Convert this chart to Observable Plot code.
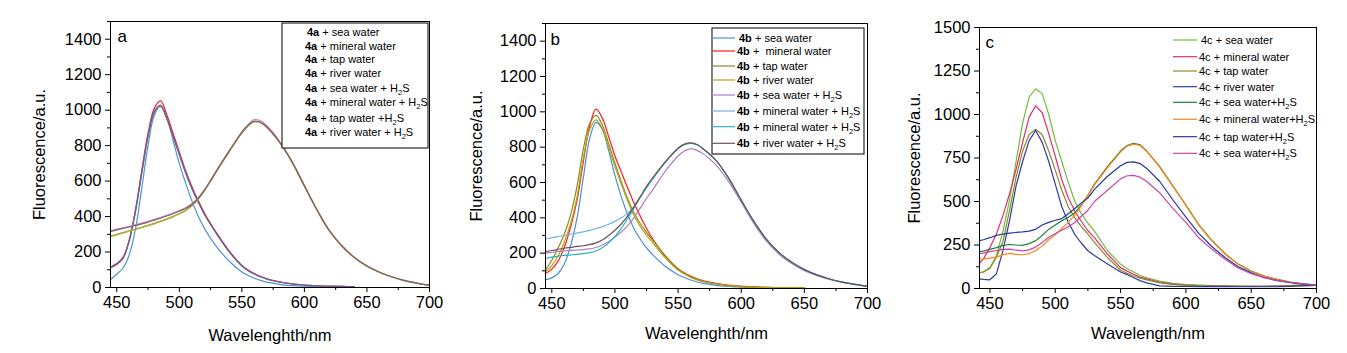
<!DOCTYPE html>
<html><head><meta charset="utf-8">
<script src="https://cdn.jsdelivr.net/npm/d3@7"></script>
<script src="https://cdn.jsdelivr.net/npm/@observablehq/plot@0.6"></script>
<style>
body{margin:0;background:#fff;}
#wrap{position:relative;width:1347px;height:353px;overflow:hidden;font-family:"Liberation Sans",Arial,sans-serif;background:#fff;}
.panel{position:absolute;top:0;}
</style></head><body><div id="wrap"></div>
<script>
// ---------- Panel a ----------
const wlA = [445,450,455,460,465,470,475,480,485,490,495,500,505,510,515,520,525,530,540,550,555,560,565,570,580,590,600,610,620,630,640,650,660,670,680,690,700];
const aSea        = [45,75,110,185,330,560,800,970,1022,960,830,700,590,490,405,335,278,228,148,88,68,52,40,30,18,11,7,5,4,3,2,null,null,null,null,null,null];
const aMineral    = [115,135,170,270,440,660,870,1010,1052,975,870,765,660,570,492,422,360,305,205,125,98,78,62,49,32,21,14,10,8,6,5,null,null,null,null,null,null];
const aTap        = [110,130,164,262,428,642,848,985,1020,950,850,748,647,558,482,414,355,300,200,121,95,76,60,47,31,20,14,10,7,6,5,null,null,null,null,null,null];
const aRiver      = [112,132,166,265,432,648,855,992,1028,955,855,752,650,561,485,416,357,302,202,123,96,77,61,48,31,20,14,10,7,6,5,null,null,null,null,null,null];
const aSeaH2S     = [320,329,337,345,354,363,373,384,395,407,420,434,450,472,505,550,605,663,773,878,918,948,940,912,826,713,576,441,322,236,170,122,87,60,40,25,13];
const aMineralH2S = [290,300,310,320,330,340,351,362,374,387,401,417,436,462,498,545,600,658,768,872,912,935,929,903,820,708,572,438,319,233,168,120,86,59,39,24,12];
const aTapH2S     = [287,297,307,317,327,337,348,359,371,384,398,414,433,459,496,544,599,657,767,871,911,934,928,902,819,707,571,437,318,233,168,120,86,59,39,24,12];
const aRiverH2S   = [316,325,333,341,350,359,369,380,391,403,416,430,446,468,502,548,603,660,770,875,915,938,932,905,822,710,573,438,320,234,169,121,86,59,39,25,13];
const labelsA = ["4a + sea water","4a + mineral water","4a + tap water","4a + river water","4a + sea water + H2S","4a + mineral water + H2S","4a + tap water +H2S","4a + river water + H2S"];
const colorsA = ["#4a93d8","#e8261e","#8a8a8a","#6f5a98","#d27ad0","#9c9c3a","#b6b038","#7a6468"];

// ---------- Panel b ----------
const wlB = wlA;
const bSea        = [50,60,85,140,245,400,630,850,940,900,780,640,520,420,340,280,230,190,125,78,62,48,37,29,18,12,8,6,4,3,3,2,null,null,null,null,null];
const bMineral    = [85,110,155,235,350,500,720,920,1015,965,860,750,660,570,485,410,340,280,180,110,88,70,55,44,29,19,13,9,6,5,4,3,null,null,null,null,null];
const bTap        = [105,160,230,310,420,580,790,935,980,925,820,710,605,510,430,368,318,272,185,112,88,68,53,41,27,17,11,8,6,5,4,3,null,null,null,null,null];
const bRiver      = [95,130,185,265,370,520,740,900,955,905,800,690,590,495,415,352,302,258,172,104,82,63,49,38,25,16,10,7,5,4,3,3,null,null,null,null,null];
const bSeaH2S     = [200,205,210,213,216,218,220,224,232,246,265,290,320,355,400,455,510,560,665,750,778,790,782,762,700,605,488,368,268,194,141,101,73,51,34,22,12];
const bMineralH2S = [280,287,294,300,307,314,321,329,338,350,364,380,400,425,462,515,570,622,716,792,815,822,814,790,725,625,500,380,278,203,148,107,77,54,36,23,13];
const bMineralH2S2= [170,178,183,187,190,193,197,203,212,230,258,295,340,395,455,515,572,622,716,792,815,822,814,790,725,625,500,380,278,203,148,107,77,54,36,23,13];
const bRiverH2S   = [210,215,222,228,233,238,242,248,258,275,300,330,365,410,462,520,578,628,718,794,817,824,815,790,725,625,500,380,278,203,148,107,77,54,36,23,13];
const labelsB = ["4b + sea water","4b +  mineral water","4b + tap water","4b + river water","4b + sea water + H2S","4b + mineral water + H2S","4b + mineral water + H2S","4b + river water + H2S"];
const colorsB = ["#4a8fd6","#ff1a1a","#8a8a2a","#b0a810","#b07cc6","#6cb4e6","#2ab4bc","#6d5555"];

// ---------- Panel c ----------
const wlC = [442,445,450,455,460,465,470,475,480,485,490,495,500,505,510,515,520,525,530,540,550,555,560,565,570,580,590,600,610,620,630,640,650,660,670,680,690,700];
const cSea        = [92,95,115,190,330,510,730,950,1100,1148,1120,1000,850,730,610,500,430,375,330,217,140,115,95,75,62,42,30,22,19,17,15,14,13,13,14,17,20,22];
const cMineral    = [145,170,235,315,420,545,685,840,985,1050,1010,890,760,625,520,445,385,332,292,198,120,100,82,65,55,36,27,20,17,15,14,13,13,13,14,16,18,20];
const cTap        = [92,95,120,180,270,450,640,790,885,915,885,790,680,565,470,405,355,313,265,178,105,88,72,60,50,32,24,19,16,14,13,12,12,12,13,16,20,22];
const cRiver      = [55,52,50,85,220,390,590,730,850,908,840,730,600,470,380,310,260,217,190,141,95,80,62,45,32,15,12,12,11,11,11,10,10,10,10,12,15,18];
const cSeaH2S     = [212,215,225,235,248,253,250,248,258,275,305,340,365,390,410,435,480,535,600,700,790,822,835,825,790,700,590,480,365,275,200,140,100,72,52,37,27,20];
const cMineralH2S = [168,170,175,180,195,202,196,194,200,218,245,280,310,345,380,425,475,535,595,695,785,818,830,822,788,698,588,478,363,273,198,139,99,71,51,36,26,20];
const cTapH2S     = [275,280,292,305,313,318,322,325,330,340,365,380,392,402,430,460,492,520,570,645,705,725,728,718,690,615,510,410,315,240,178,125,90,62,45,33,25,20];
const cSea2H2S    = [200,203,212,218,225,226,220,216,222,238,265,295,315,335,355,380,415,450,500,565,630,648,650,640,615,550,460,380,290,225,168,118,85,64,46,35,26,20];
const labelsC = ["4c + sea water","4c + mineral water","4c + tap water","4c + river water","4c + sea water+H2S","4c + mineral water+H2S","4c + tap water+H2S","4c + sea water+H2S"];
const colorsC = ["#6cbf3c","#e82a6e","#8a8a2a","#2f3f9a","#1f7f3a","#ff8514","#26389a","#c846a8"];

// ---------- Axis ticks / labels ----------
const xMajor = [450,500,550,600,650,700];
const xMinor = [475,525,575,625,675];
const yMajorAB = [0,200,400,600,800,1000,1200,1400];
const yMinorAB = [100,300,500,700,900,1100,1300,1500];
const yMajorC = [0,250,500,750,1000,1250,1500];
const yMinorC = [125,375,625,875,1125,1375];
const yTitle = "Fluorescence/a.u.";

const panels = [
  {tag:"a", left:0, width:440, m:[21,11,66,110], wl:wlA, series:[aSea,aMineral,aTap,aRiver,aSeaH2S,aMineralH2S,aTapH2S,aRiverH2S],
   labels:labelsA, colors:colorsA, xd:[445,700], yd:[0,1500], yMaj:yMajorAB, yMin:yMinorAB, xTitle:"Wavelenghth/nm",
   yOff:77, xOff:53, tagDx:7, tagDy:20, curve:"catmull-rom",
   legend:{box:[282,23,428,148], lineX:null, textX:305, rows:[35.7,49.7,63.3,77.3,91.7,106.3,121.7,136.3]}},
  {tag:"b", left:440, width:440, m:[23,13,65,105], wl:wlB, series:[bSea,bMineral,bTap,bRiver,bSeaH2S,bMineralH2S,bMineralH2S2,bRiverH2S],
   labels:labelsB, colors:colorsB, xd:[445,700], yd:[0,1500], yMaj:yMajorAB, yMin:yMinorAB, xTitle:"Wavelenghth/nm",
   yOff:75, xOff:50, tagDx:5, tagDy:21, curve:"catmull-rom",
   legend:{box:[272,28,424,154], lineX:[272,295], textX:297, rows:[42,55,70,84,99,115,130.7,147.3]}},
  {tag:"c", left:880, width:467, m:[27,31,65,99], wl:wlC, series:[cSea,cMineral,cTap,cRiver,cSeaH2S,cMineralH2S,cTapH2S,cSea2H2S],
   labels:labelsC, colors:colorsC, xd:[442,700], yd:[0,1500], yMaj:yMajorC, yMin:yMinorC, xTitle:"Wavelength/nm",
   yOff:71, xOff:50, tagDx:6, tagDy:20, curve:"linear",
   legend:{box:null, lineX:[293,317], textX:319, rows:[44,60.7,75,90.7,106.3,123.3,140.7,157.3]}}
];

const fmt = d3.format("d");
const wrap = document.getElementById("wrap");
for (const p of panels) {
  const lines = p.series.map((s, i) => {
    const rows = [];
    s.forEach((v, j) => { if (v != null) rows.push({wl: p.wl[j], v, key: i}); });
    return Plot.line(rows, {x: "wl", y: "v", stroke: p.colors[i], strokeWidth: 1.2, curve: p.curve, clip: true});
  });
  const chart = Plot.plot({
    width: p.width, height: 353,
    marginTop: p.m[0], marginRight: p.m[1], marginBottom: p.m[2], marginLeft: p.m[3],
    x: {domain: p.xd}, y: {domain: p.yd},
    style: {fontFamily: "'Liberation Sans', Arial, sans-serif", fontSize: "16.5px", color: "black", background: "transparent", overflow: "visible"},
    marks: [
      ...lines,
      Plot.axisX(xMajor, {tickSize: 5, tickPadding: 4, tickFormat: fmt, label: p.xTitle, labelAnchor: "center", labelOffset: p.xOff, labelArrow: "none", fontSize: 16.5}),
      Plot.axisX(xMinor, {tickSize: 3, tickFormat: () => "", label: null}),
      Plot.axisY(p.yMaj, {tickSize: 5, tickPadding: 4, tickFormat: fmt, label: yTitle, labelAnchor: "center", labelOffset: p.yOff, labelArrow: "none", fontSize: 16.5}),
      Plot.axisY(p.yMin, {tickSize: 3, tickFormat: () => "", label: null}),
      Plot.frame({stroke: "black", strokeWidth: 1}),
      Plot.text([p.tag], {frameAnchor: "top-left", dx: p.tagDx, dy: p.tagDy, lineAnchor: "bottom", fontSize: 17, text: d => d})
    ]
  });
  const div = document.createElement("div");
  div.className = "panel";
  div.style.left = p.left + "px";
  div.appendChild(chart);
  wrap.appendChild(div);

  // legend
  const svg = d3.select(chart);
  const g = svg.append("g").attr("font-family", "'Liberation Sans', Arial, sans-serif").attr("font-size", 11)
      .attr("fill", "black").attr("text-anchor", "start");
  const L = p.legend;
  if (L.box) g.append("rect").attr("x", L.box[0]).attr("y", L.box[1]).attr("width", L.box[2]-L.box[0]).attr("height", L.box[3]-L.box[1])
      .attr("fill", "white").attr("stroke", "black").attr("stroke-width", 1);
  p.labels.forEach((lab, i) => {
    const base = L.rows[i];
    if (L.lineX) g.append("line").attr("x1", L.lineX[0]).attr("x2", L.lineX[1]).attr("y1", base - 4).attr("y2", base - 4)
        .attr("stroke", p.colors[i]).attr("stroke-width", 1.2);
    const t = g.append("text").attr("x", L.textX + (i === 0 ? 2 : 0)).attr("y", base).style("white-space", "pre");
    const prefix = lab.slice(0, 2);
    t.append("tspan").attr("font-weight", p.tag === "c" ? "normal" : "bold").text(prefix);
    const rest = lab.slice(2);
    rest.split(/(H2S)/).forEach(part => {
      if (part === "H2S") {
        t.append("tspan").text("H");
        t.append("tspan").attr("font-size", 7.5).attr("dy", 3).text("2");
        t.append("tspan").attr("dy", -3).text("S");
      } else if (part) {
        t.append("tspan").text(part);
      }
    });
  });
}
</script></body></html>
